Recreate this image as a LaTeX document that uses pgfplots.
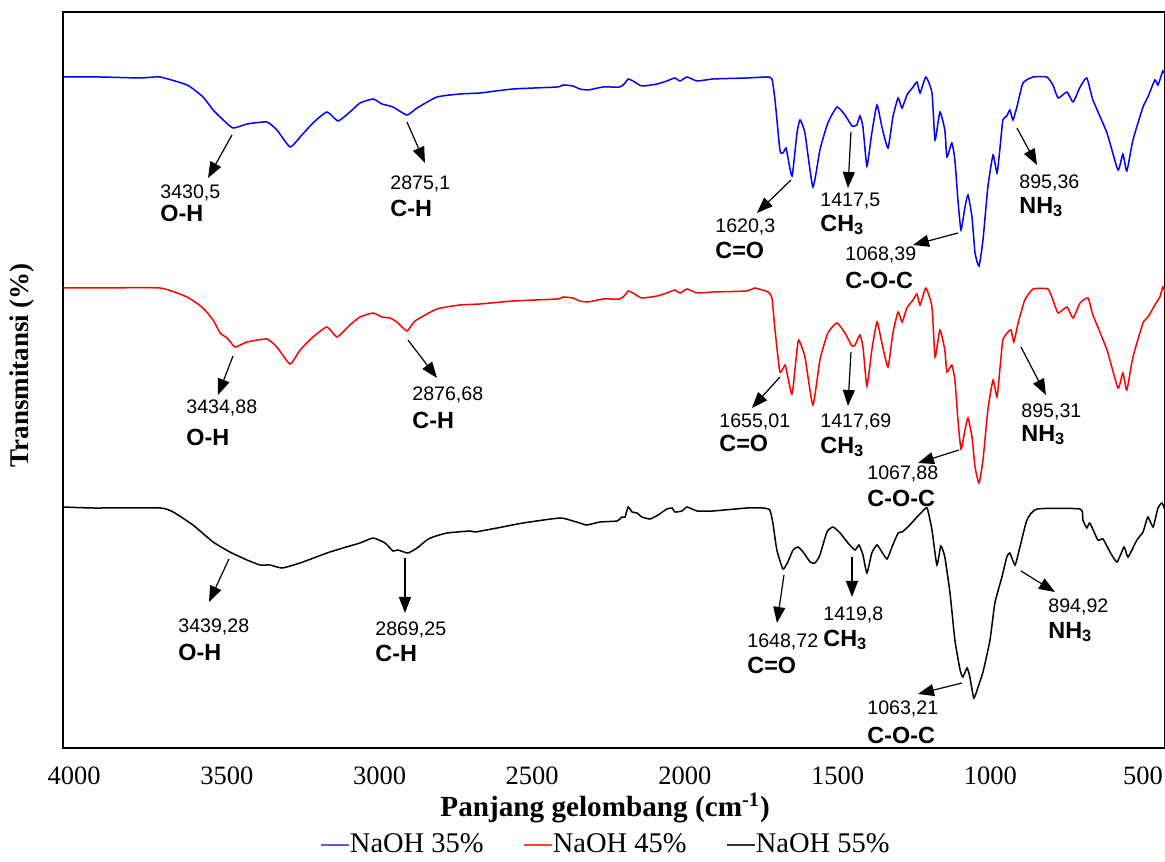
\documentclass[border=0pt]{standalone}
\usepackage{fontspec}
\setmainfont{Liberation Serif}
\newfontfamily\arial{Liberation Sans}
\usepackage{pgfplots}
\pgfplotsset{compat=1.18}
\usetikzlibrary{arrows.meta}

% annotation helpers: positions given in picture pixels (x from left, y from top)
\newcommand{\arr}[4]{\draw[-{Triangle[length=8pt,width=6pt]}, line width=0.6pt]
  (axis cs:{4242.8-3.2744*#1},{748-#2}) -- (axis cs:{4242.8-3.2744*#3},{748-#4});}
\newcommand{\num}[3]{\node[anchor=west, inner sep=0pt, font=\arial\fontsize{9.8}{11}\selectfont]
  at (axis cs:{4242.8-3.2744*#1},{748-#2}) {#3};}
\newcommand{\grp}[3]{\node[anchor=west, inner sep=0pt, font=\arial\bfseries\fontsize{11.7}{13}\selectfont]
  at (axis cs:{4242.8-3.2744*#1},{748-#2}) {#3};}

\begin{document}
\begin{tikzpicture}
\begin{axis}[
  scale only axis, width=551pt, height=368pt,
  x dir=reverse, xmin=428, xmax=4036.5, ymin=0, ymax=736,
  axis line style={line width=1.25pt},
  ytick=\empty,
  xtick={4000,3500,3000,2500,2000,1500,1000,500},
  xticklabels={4000,3500,3000,2500,2000,1500,1000,500},
  major tick length=0pt,
  xticklabel style={font=\fontsize{13.25}{15}\selectfont, anchor=center, yshift=-14pt},
  xlabel={Panjang gelombang (cm\textsuperscript{-1})},
  xlabel style={font=\bfseries\fontsize{14.6}{16}\selectfont, at={(axis description cs:0.492,0)}, anchor=center, yshift=-30pt},
  ylabel={Transmitansi (\%)},
  ylabel style={font=\bfseries\fontsize{13.5}{15}\selectfont, at={(axis description cs:-0.0372,0.52)}, anchor=center},
  legend style={at={(axis description cs:0.492,0)}, anchor=center, yshift=-48.5pt,
    draw=none, fill=none, legend columns=3, font=\fontsize{14.25}{16}\selectfont,
    /tikz/every even column/.append style={column sep=20pt}, nodes={inner xsep=0pt}},
  legend image code/.code={\draw[line width=0.6pt] (0pt,0pt) -- (14pt,0pt);},
  clip=false,
  every axis plot/.append style={line width=0.75pt, smooth, tension=0.3},
]
% NaOH 35%
\addplot[blue, forget plot] coordinates {
(4036,671) (3915,671) (3784,670) (3719,671) (3630,663) (3578,651) (3545,638) (3522,631)
(3480,620) (3434,624) (3369,626) (3336,618) (3293,601) (3260,611) (3218,625) (3172,636)
(3136,627) (3097,636) (3064,645) (3021,649) (2992,644) (2956,641) (2910,633) (2877,640)
(2812,651) (2737,654) (2671,655) (2563,659) (2419,661) (2399,663) (2367,662) (2344,659)
(2317,658) (2268,661) (2213,661) (2196,665) (2186,669) (2170,667) (2141,662) (2091,664)
(2059,667) (2033,670) (2016,667) (1993,671) (1960,667) (1908,669) (1797,670) (1731,671)
(1715,669) (1705,648) (1689,598) (1679,595) (1669,600) (1663,591) (1649,572) (1633,615)
(1623,628) (1607,615) (1581,561) (1558,598) (1532,625) (1502,641) (1476,633) (1453,622)
(1437,623) (1427,632) (1417,621) (1404,582) (1388,615) (1371,643) (1355,621) (1335,600)
(1319,631) (1302,650) (1289,640) (1273,653) (1253,661) (1240,666) (1230,655) (1211,671)
(1191,655) (1181,608) (1165,636) (1149,618) (1142,591) (1126,605) (1116,588) (1106,548)
(1096,518) (1083,541) (1073,553) (1060,531) (1050,495) (1037,482) (1024,508) (1008,561)
(991,593) (978,575) (968,601) (959,628) (946,632) (936,638) (926,628) (913,641)
(893,665) (860,671) (815,671) (795,663) (778,650) (749,656) (729,646) (706,661)
(684,670) (664,648) (618,615) (582,578) (566,594) (553,577) (533,608) (500,641)
(484,651) (461,668) (451,663) (435,677) (428,673)};
% NaOH 45%
\addplot[red, forget plot] coordinates {
(4036,460) (3915,460) (3719,460) (3630,451) (3578,440) (3545,428) (3522,415) (3499,410)
(3473,401) (3434,406) (3369,409) (3336,401) (3293,384) (3260,398) (3218,411) (3172,421)
(3139,411) (3097,423) (3064,431) (3021,435) (2992,431) (2966,430) (2943,426) (2910,417)
(2884,427) (2812,439) (2737,443) (2671,444) (2563,447) (2419,449) (2399,451) (2367,450)
(2344,447) (2317,446) (2268,449) (2213,449) (2196,453) (2186,457) (2170,455) (2141,450)
(2091,452) (2059,455) (2033,458) (2016,455) (1993,459) (1960,455) (1908,456) (1797,457)
(1771,460) (1728,456) (1715,450) (1705,418) (1689,376) (1672,383) (1663,371) (1649,354)
(1633,398) (1627,408) (1607,391) (1581,343) (1558,388) (1532,415) (1502,425) (1476,415)
(1453,402) (1443,403) (1427,413) (1417,401) (1404,362) (1388,398) (1371,426) (1355,405)
(1335,381) (1319,415) (1302,436) (1289,426) (1273,440) (1253,448) (1240,454) (1230,443)
(1211,460) (1191,441) (1181,391) (1165,418) (1149,398) (1142,376) (1126,383) (1116,368)
(1106,328) (1096,299) (1083,318) (1073,330) (1060,311) (1050,281) (1037,265) (1024,288)
(1008,338) (991,368) (978,351) (968,381) (959,408) (942,416) (932,418) (923,406)
(909,425) (887,448) (860,459) (811,459) (795,448) (778,435) (749,441) (729,430)
(706,445) (680,450) (664,433) (618,398) (582,360) (566,375) (553,358) (533,391)
(500,425) (484,431) (461,443) (445,451) (435,461) (428,456)};
% NaOH 55%
\addplot[black, forget plot] coordinates {
(4036,241) (3938,240) (3719,240) (3676,236) (3611,223) (3545,206) (3490,196) (3434,188)
(3391,183) (3359,183) (3319,180) (3260,185) (3172,195) (3120,200) (3064,205) (3021,210)
(2982,205) (2956,197) (2940,198) (2907,195) (2877,200) (2845,208) (2825,211) (2779,215)
(2704,217) (2687,216) (2615,220) (2530,225) (2409,230) (2367,227) (2344,225) (2321,223)
(2278,226) (2222,227) (2206,231) (2196,231) (2186,241) (2173,236) (2157,235) (2141,231)
(2114,229) (2088,233) (2059,239) (2042,240) (2033,236) (2010,237) (1993,241) (1960,237)
(1908,237) (1797,240) (1744,240) (1722,238) (1712,225) (1699,198) (1679,179) (1663,186)
(1646,198) (1630,201) (1613,196) (1590,186) (1574,185) (1558,193) (1535,216) (1515,221)
(1492,215) (1466,205) (1443,198) (1430,203) (1417,193) (1404,175) (1388,195) (1371,203)
(1355,196) (1338,189) (1322,201) (1302,215) (1289,216) (1270,221) (1240,231) (1224,236)
(1207,240) (1191,218) (1175,183) (1162,202) (1149,191) (1132,155) (1116,108) (1099,78)
(1090,71) (1076,80) (1067,71) (1054,50) (1040,61) (1024,76) (1001,108) (985,145)
(962,171) (946,191) (936,195) (919,183) (903,201) (880,228) (847,239) (706,239)
(697,228) (684,220) (674,225) (648,208) (631,209) (608,196) (585,186) (562,201)
(549,191) (520,208) (500,216) (484,231) (467,221) (451,240) (438,245) (428,238)};

\addlegendimage{color=blue!65!white}
\addlegendentry{NaOH 35\%}
\addlegendimage{color=red!75!white}
\addlegendentry{NaOH 45\%}
\addlegendimage{color=black!80!white}
\addlegendentry{NaOH 55\%}

% annotations, NaOH 35%
\arr{232}{135}{208}{178} \num{160}{193}{3430,5}  \grp{160}{213}{O-H}
\arr{407}{122}{425}{163} \num{390}{184}{2875,1}  \grp{390}{208}{C-H}
\arr{791}{180}{757}{213} \num{715}{227}{1620,3}  \grp{715}{250}{C=O}
\arr{851}{132}{848}{188} \num{820}{201}{1417,5}  \grp{820}{225}{CH\textsubscript{3}}
\arr{958}{233}{913}{245} \num{845}{255}{1068,39} \grp{845}{280}{C-O-C}
\arr{1017}{128}{1037}{165} \num{1019}{183}{895,36} \grp{1019}{207}{NH\textsubscript{3}}
% annotations, NaOH 45%
\arr{233}{356}{218}{395} \num{186}{408}{3434,88} \grp{186}{437}{O-H}
\arr{408}{340}{437}{378} \num{412}{395}{2876,68} \grp{412}{420}{C-H}
\arr{780}{377}{752}{408} \num{719}{422}{1655,01} \grp{719}{443}{C=O}
\arr{851}{352}{848}{406} \num{820}{422}{1417,69} \grp{820}{447}{CH\textsubscript{3}}
\arr{959}{450}{918}{463} \num{867}{474}{1067,88} \grp{867}{498}{C-O-C}
\arr{1021}{347}{1046}{395} \num{1021}{412}{895,31} \grp{1021}{435}{NH\textsubscript{3}}
% annotations, NaOH 55%
\arr{229}{559}{209}{602} \num{178}{627}{3439,28} \grp{178}{652}{O-H}
\arr{405}{558}{405}{613} \num{375}{630}{2869,25} \grp{375}{653}{C-H}
\arr{784}{575}{777}{623} \num{747}{642}{1648,72} \grp{747}{665}{C=O}
\arr{852}{557}{852}{597} \num{823}{615}{1419,8}  \grp{823}{640}{CH\textsubscript{3}}
\arr{962}{683}{918}{694} \num{867}{709}{1063,21} \grp{867}{735}{C-O-C}
\arr{1021}{571}{1055}{592} \num{1048}{607}{894,92} \grp{1048}{632}{NH\textsubscript{3}}
\end{axis}
\pgfresetboundingbox
\path[use as bounding box] ([xshift=-31.5pt,yshift=-56.5pt]current axis.south west)
  rectangle ([yshift=6pt]current axis.north east);
\end{tikzpicture}
\end{document}
